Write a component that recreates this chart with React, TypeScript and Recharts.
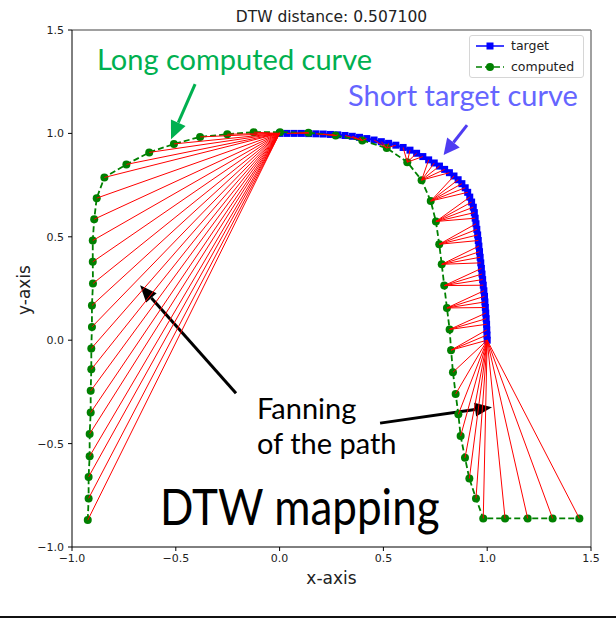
import { ScatterChart, Scatter, XAxis, YAxis, ReferenceLine } from 'recharts'

// target curve (short, blue squares)
const targetX = [
  0.0, 0.035, 0.07, 0.105, 0.14, 0.175, 0.21, 0.245, 0.28, 0.315, 0.35, 0.385, 0.42, 0.455, 0.49, 0.525,
  0.56, 0.595, 0.628, 0.66, 0.69, 0.718, 0.745, 0.77, 0.795, 0.818, 0.84, 0.86, 0.878, 0.894, 0.906, 0.916,
  0.925, 0.933, 0.938, 0.942, 0.946, 0.95, 0.954, 0.957, 0.96, 0.963, 0.966, 0.969, 0.972, 0.975, 0.978,
  0.981, 0.984, 0.987, 0.989, 0.991, 0.993, 0.995, 0.997, 0.998, 0.999, 1.0,
]
const targetY = [
  1.0, 1.0, 1.0, 1.0, 0.999, 0.998, 0.997, 0.995, 0.993, 0.99, 0.986, 0.981, 0.975, 0.968, 0.96, 0.952,
  0.943, 0.932, 0.919, 0.904, 0.888, 0.872, 0.857, 0.842, 0.826, 0.81, 0.794, 0.776, 0.757, 0.737, 0.715, 0.692,
  0.668, 0.643, 0.617, 0.59, 0.563, 0.536, 0.509, 0.482, 0.455, 0.428, 0.401, 0.374, 0.347, 0.32, 0.293,
  0.266, 0.239, 0.212, 0.185, 0.158, 0.131, 0.104, 0.077, 0.05, 0.025, 0.0,
]

// computed curve (long, green dots)
const computedX = [
  -0.924, -0.92, -0.92, -0.915, -0.915, -0.91, -0.91, -0.907, -0.907, -0.904, -0.904, -0.899, -0.9, -0.9,
  -0.893, -0.881, -0.844, -0.738, -0.628, -0.509, -0.383, -0.252, -0.125, 0.002, 0.139, 0.27, 0.398, 0.516,
  0.615, 0.684, 0.728, 0.753, 0.769, 0.781, 0.793, 0.806, 0.819, 0.826, 0.835, 0.848, 0.861, 0.872, 0.893,
  0.914, 0.946, 0.981, 1.086, 1.195, 1.315, 1.444,
]
const computedY = [
  -0.87, -0.765, -0.661, -0.561, -0.453, -0.35, -0.245, -0.141, -0.04, 0.064, 0.168, 0.274, 0.379, 0.482,
  0.585, 0.687, 0.787, 0.85, 0.908, 0.949, 0.983, 0.996, 1.006, 1.006, 1.003, 0.99, 0.966, 0.929,
  0.861, 0.774, 0.673, 0.574, 0.464, 0.367, 0.264, 0.156, 0.052, -0.048, -0.155, -0.26, -0.358, -0.463, -0.569,
  -0.669, -0.765, -0.862, -0.862, -0.862, -0.862, -0.862,
]

// warping path: computed point i is matched to target points matchFrom[i]..matchTo[i]
const matchFrom = [
  0, 0, 0, 0, 0, 0, 0, 0, 0, 0, 0, 0, 0, 0, 0, 0, 0, 0, 0, 0, 0, 0, 0, 0,
  1, 5, 9, 13, 17, 21, 26, 31, 36, 40, 44, 48, 52, 55,
  57, 57, 57, 57, 57, 57, 57, 57, 57, 57, 57, 57,
]
const matchTo = [
  0, 0, 0, 0, 0, 0, 0, 0, 0, 0, 0, 0, 0, 0, 0, 0, 0, 0, 0, 0, 0, 0, 0, 0,
  4, 8, 12, 16, 20, 25, 30, 35, 39, 43, 47, 51, 54, 57,
  57, 57, 57, 57, 57, 57, 57, 57, 57, 57, 57, 57,
]

const axisTicks = [-1, -0.5, 0, 0.5, 1, 1.5]

const target = targetX.map((x, i) => ({ x, y: targetY[i] }))
const computed = computedX.map((x, i) => ({ x, y: computedY[i] }))
const links: { x: number; y: number }[][] = []
matchFrom.forEach((from, c) => {
  for (let t = from; t <= matchTo[c]; t++) links.push([target[t], computed[c]])
})

const fmt = (v: number) => v.toFixed(1).replace('-', '\u2212')
const tickStyle = { fontSize: 11, fill: '#222', fontFamily: 'DejaVu Sans' }

const Square = (p: any) => <rect x={p.cx - 3.5} y={p.cy - 3.5} width={7} height={7} fill="#0000ff" />
const Dot = (p: any) => <circle cx={p.cx} cy={p.cy} r={4} fill="#008000" />
const NoDot = () => <g />

const arrow = (color: string, w: number, len: number, half: number) => (p: any) => {
  const { x1, y1, x2, y2 } = p
  const dx = x2 - x1
  const dy = y2 - y1
  const d = Math.hypot(dx, dy) || 1
  const ux = dx / d
  const uy = dy / d
  const bx = x2 - ux * len
  const by = y2 - uy * len
  return (
    <g>
      <line x1={x1} y1={y1} x2={bx} y2={by} stroke={color} strokeWidth={w} />
      <polygon
        points={`${x2},${y2} ${bx - uy * half},${by + ux * half} ${bx + uy * half},${by - ux * half}`}
        fill={color}
      />
    </g>
  )
}

const annText = { fontFamily: 'Lato', position: 'absolute' as const, whiteSpace: 'nowrap' as const, lineHeight: 1 }

export default function App() {
  return (
    <div style={{ position: 'absolute', left: 0, top: 0, width: 616, height: 620, background: '#fff' }}>
      <ScatterChart width={616} height={620} margin={{ top: 30, right: 25, bottom: 43, left: 0 }}>
        <XAxis
          type="number"
          dataKey="x"
          domain={[-1, 1.5]}
          ticks={axisTicks}
          interval={0}
          allowDataOverflow
          tickFormatter={fmt}
          tick={tickStyle}
          tickSize={4}
          tickMargin={3}
          height={30}
          stroke="#000"
        />
        <YAxis
          type="number"
          dataKey="y"
          domain={[-1, 1.5]}
          ticks={axisTicks}
          interval={0}
          allowDataOverflow
          tickFormatter={fmt}
          tick={tickStyle}
          tickSize={4}
          tickMargin={4}
          width={72}
          stroke="#000"
        />
        <ReferenceLine y={1.5} stroke="#808080" strokeWidth={1.5} />
        <ReferenceLine x={1.5} stroke="#808080" strokeWidth={1.5} />
        <Scatter
          data={target}
          line={{ stroke: '#0000ff', strokeWidth: 2 }}
          lineType="joint"
          shape={Square}
          isAnimationActive={false}
        />
        <Scatter
          data={computed}
          line={{ stroke: '#008000', strokeWidth: 1.8, strokeDasharray: '6 3' }}
          lineType="joint"
          shape={Dot}
          isAnimationActive={false}
        />
        {links.map((seg, i) => (
          <Scatter
            key={i}
            data={seg}
            line={{ stroke: '#ff0000', strokeWidth: 1 }}
            lineType="joint"
            shape={NoDot}
            isAnimationActive={false}
          />
        ))}
        <ReferenceLine segment={[{ x: -0.407, y: 1.238 }, { x: -0.523, y: 0.972 }]} shape={arrow('#00b050', 3, 18, 8)} />
        <ReferenceLine segment={[{ x: 0.903, y: 1.04 }, { x: 0.79, y: 0.895 }]} shape={arrow('#4f3cf2', 3, 16, 8)} />
        <ReferenceLine segment={[{ x: -0.21, y: -0.256 }, { x: -0.672, y: 0.266 }]} shape={arrow('#000', 3, 17, 7)} />
        <ReferenceLine segment={[{ x: 0.484, y: -0.401 }, { x: 1.023, y: -0.324 }]} shape={arrow('#000', 3, 17, 7)} />
      </ScatterChart>

      <div style={{ position: 'absolute', left: 0, width: 663, top: 8, textAlign: 'center', fontFamily: 'DejaVu Sans', fontSize: 15.5, color: '#222' }}>
        DTW distance: 0.507100
      </div>
      <div style={{ position: 'absolute', left: 0, width: 663, top: 568, textAlign: 'center', fontFamily: 'DejaVu Sans', fontSize: 17, color: '#222' }}>
        x-axis
      </div>
      <div
        style={{
          position: 'absolute', left: 24, top: 290, transform: 'translate(-50%, -50%) rotate(-90deg)',
          fontFamily: 'DejaVu Sans', fontSize: 17, color: '#222', whiteSpace: 'nowrap',
        }}
      >
        y-axis
      </div>

      <div
        style={{
          position: 'absolute', left: 469, top: 35, width: 115, height: 43, boxSizing: 'border-box',
          border: '1px solid #d6d6d6', borderRadius: 3, background: 'rgba(255,255,255,0.85)',
          fontFamily: 'DejaVu Sans', fontSize: 12.5, color: '#222',
        }}
      >
        <svg width={40} height={43} style={{ position: 'absolute', left: 4, top: 0 }}>
          <line x1={2} y1={10} x2={30} y2={10} stroke="#0000ff" strokeWidth={1.5} />
          <rect x={12.5} y={6.5} width={7} height={7} fill="#0000ff" />
          <line x1={2} y1={31} x2={30} y2={31} stroke="#008000" strokeWidth={1.5} strokeDasharray="6 3" />
          <circle cx={16} cy={31} r={4} fill="#008000" />
        </svg>
        <div style={{ position: 'absolute', left: 41, top: 2 }}>target</div>
        <div style={{ position: 'absolute', left: 41, top: 23 }}>computed</div>
      </div>

      <div style={{ ...annText, left: 97, top: 44, fontSize: 29, color: '#00b050' }}>Long computed curve</div>
      <div style={{ ...annText, left: 348, top: 80, fontSize: 29, color: '#6565ff' }}>Short target curve</div>
      <div style={{ ...annText, left: 257, top: 393, fontSize: 29, color: '#000' }}>Fanning</div>
      <div style={{ ...annText, left: 257, top: 428, fontSize: 29, color: '#000' }}>of the path</div>
      <div style={{ ...annText, left: 160, top: 481, fontSize: 50, color: '#000', transform: 'scaleX(0.88)', transformOrigin: 'left top' }}>
        DTW mapping
      </div>

      <div style={{ position: 'absolute', left: 0, top: 616, width: 616, height: 2, background: '#111' }} />
    </div>
  )
}
